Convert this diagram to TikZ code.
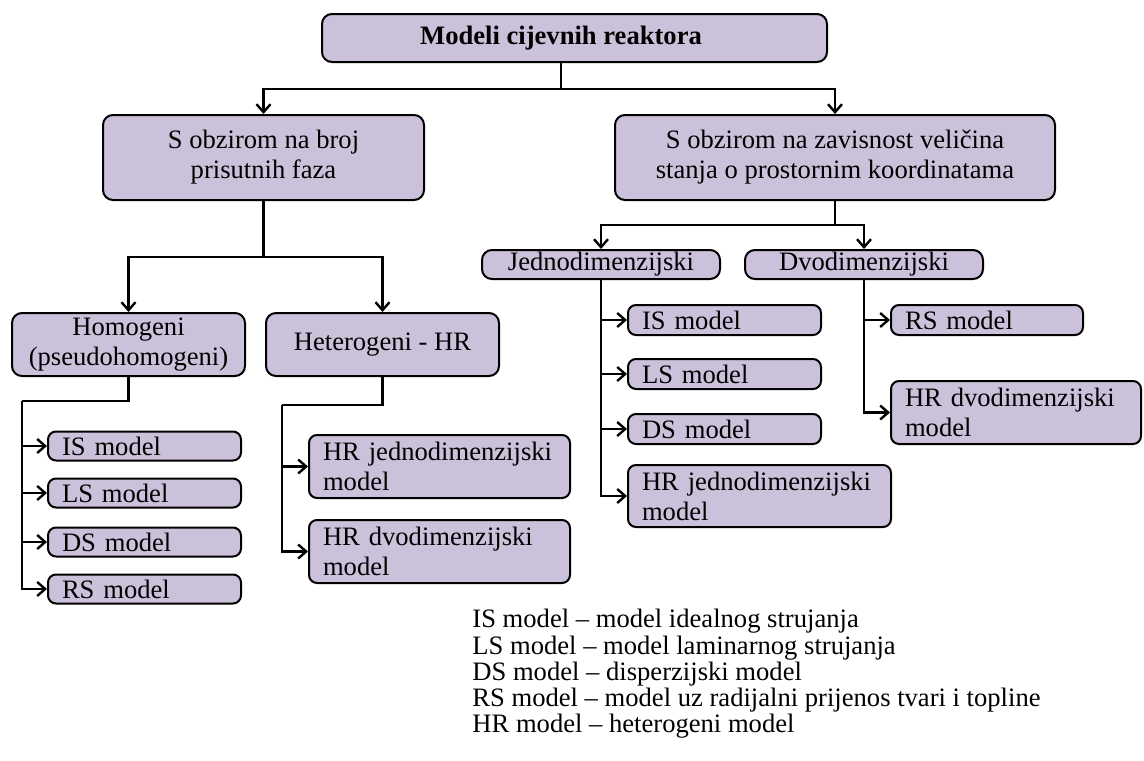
\documentclass[tikz,border=0pt]{standalone}
\usepackage{fontspec}
\setmainfont{Liberation Serif}
\usetikzlibrary{arrows.meta}
\definecolor{boxfill}{HTML}{CCC1DA}

\begin{document}
\begin{tikzpicture}[x=0.5pt, y=-0.5pt,
    >={Straight Barb[length=4pt,width=7pt]},
    mbox/.style={rectangle, draw=black, fill=boxfill, line width=1pt, rounded corners=5pt,
        inner xsep=0pt, inner ysep=1pt, font=\fontsize{13.3}{15}\selectfont, align=center},
    lbox/.style={mbox, rounded corners=4pt, inner xsep=7pt, align=left, text width=#1},
    link/.style={line width=1.2pt}]
    \useasboundingbox (0,0) rectangle (1144,760);

    % Root
    \node[mbox, minimum width=252.5pt, minimum height=24pt, font=\fontsize{13.3}{15}\selectfont\bfseries] (root) at (574.5,38)
        {Modeli cijevnih reaktora\hspace*{13.5pt}};

    % Second level
    \node[mbox, minimum width=160.5pt, minimum height=42.5pt] (phase) at (263.5,157.5)
        {S obzirom na broj\\prisutnih faza};
    \node[mbox, minimum width=220pt, minimum height=42.5pt] (space) at (835,157.5)
        {S obzirom na zavisnost veličina\\stanja o prostornim koordinatama};

    \coordinate (split1) at ([xshift=-6.75pt, yshift=-13pt]root.south);
    \draw[link] ([xshift=-6.75pt]root.south) -- (split1);
    \draw[link, ->] (split1) -| (phase);
    \draw[link, ->] (split1) -| (space);

    % Number of phases
    \node[mbox, minimum width=116.5pt, minimum height=31.5pt] (homo) at (128.5,344.5)
        {Homogeni\\(pseudohomogeni)};
    \node[mbox, minimum width=116.5pt, minimum height=31.5pt] (hetero) at (382.5,344.5)
        {Heterogeni - HR};

    \coordinate (split2) at ([yshift=-28pt]phase.south);
    \draw[link] (phase.south) -- (split2);
    \draw[link, ->] (split2) -| (homo);
    \draw[link, ->] (split2) -| (hetero);

    % Spatial coordinates
    \node[mbox, minimum width=119pt, minimum height=14.5pt] (jedno) at (601,264.5)
        {Jednodimenzijski};
    \node[mbox, minimum width=119pt, minimum height=14.5pt] (dvo) at (864,264.5)
        {Dvodimenzijski};

    \coordinate (split3) at ([yshift=-12pt]space.south);
    \draw[link] (space.south) -- (split3);
    \draw[link, ->] (split3) -| (jedno);
    \draw[link, ->] (split3) -| (dvo);

    % Homogeneous models
    \node[lbox=82.5pt, minimum height=14.5pt] (hIS) at (144.5,446) {IS model};
    \node[lbox=82.5pt, minimum height=14.5pt] (hLS) at (144.5,493) {LS model};
    \node[lbox=82.5pt, minimum height=14.5pt] (hDS) at (144.5,542) {DS model};
    \node[lbox=82.5pt, minimum height=14.5pt] (hRS) at (144.5,589) {RS model};

    \coordinate (hbus) at (22,401);
    \draw[link] (homo.south) |- (hbus);
    \draw[link, ->] (hbus) |- (hIS);
    \draw[link, ->] (hbus) |- (hLS);
    \draw[link, ->] (hbus) |- (hDS);
    \draw[link, ->] (hbus) |- (hRS);

    % Heterogeneous models
    \node[lbox=116.5pt, minimum height=31.5pt] (tHRj) at (439.5,466.5) {HR jednodimenzijski\\model};
    \node[lbox=116.5pt, minimum height=31.5pt] (tHRd) at (439.5,551.5) {HR dvodimenzijski\\model};

    \coordinate (tbus) at (282,405);
    \draw[link] (hetero.south) |- (tbus);
    \draw[link, ->] (tbus) |- (tHRj);
    \draw[link, ->] (tbus) |- (tHRd);

    % One-dimensional models
    \node[lbox=82.5pt, minimum height=15pt] (jIS) at (724.5,320) {IS model};
    \node[lbox=82.5pt, minimum height=15pt] (jLS) at (724.5,374) {LS model};
    \node[lbox=82.5pt, minimum height=15pt] (jDS) at (724.5,429) {DS model};
    \node[lbox=117.5pt, minimum height=31pt] (jHR) at (759.5,496) {HR jednodimenzijski\\model};

    \draw[link, ->] (jedno.south) |- (jIS);
    \draw[link, ->] (jedno.south) |- (jLS);
    \draw[link, ->] (jedno.south) |- (jDS);
    \draw[link, ->] (jedno.south) |- (jHR);

    % Two-dimensional models
    \node[lbox=82pt, minimum height=15pt] (dRS) at (987,320) {RS model};
    \node[lbox=111pt, minimum height=31.5pt] (dHR) at (1016,412.5) {HR dvodimenzijski\\model};

    \draw[link, ->] (dvo.south) |- (dRS);
    \draw[link, ->] (dvo.south) |- (dHR);

    % Legend
    \node[anchor=north west, inner sep=0pt, align=left, font=\fontsize{13.3}{13.1}\selectfont] (legend) at (472,609)
        {IS model – model idealnog strujanja\\
         LS model – model laminarnog strujanja\\
         DS model – disperzijski model\\
         RS model – model uz radijalni prijenos tvari i topline\\
         HR model – heterogeni model};
\end{tikzpicture}
\end{document}
